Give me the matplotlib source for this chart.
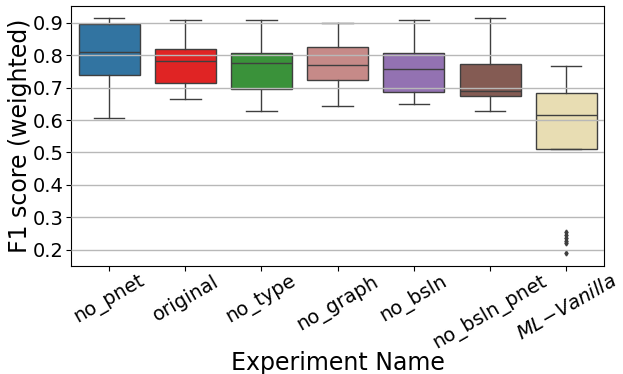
import matplotlib
matplotlib.use("Agg")
import matplotlib.pyplot as plt

# experiment names and box statistics
names = ["no_pnet", "original", "no_type", "no_graph", "no_bsln", "no_bsln_pnet", r"$ML\!-\!Vanilla$"]
whisker_low = [0.606, 0.664, 0.627, 0.643, 0.650, 0.627, 0.510]
q1 = [0.738, 0.713, 0.694, 0.723, 0.687, 0.673, 0.510]
median = [0.808, 0.782, 0.775, 0.769, 0.756, 0.690, 0.615]
q3 = [0.896, 0.819, 0.806, 0.824, 0.806, 0.772, 0.683]
whisker_high = [0.913, 0.909, 0.909, 0.900, 0.909, 0.914, 0.766]
outliers = [[], [], [], [], [], [], [0.255, 0.247, 0.238, 0.229, 0.220, 0.190]]
colors = ["#3274a1", "#e02424", "#3a923a", "#c68a88", "#9372b2", "#845b53", "#e8ddb3"]

stats = []
for i, name in enumerate(names):
    stats.append({
        "label": name,
        "whislo": whisker_low[i],
        "q1": q1[i],
        "med": median[i],
        "q3": q3[i],
        "whishi": whisker_high[i],
        "fliers": outliers[i],
    })

fig, ax = plt.subplots(figsize=(6.23, 3.74), dpi=100)
edge = "#3f3f3f"
bp = ax.bxp(
    stats,
    positions=range(len(names)),
    widths=0.8,
    patch_artist=True,
    boxprops=dict(edgecolor=edge, linewidth=1.0),
    medianprops=dict(color=edge, linewidth=1.0),
    whiskerprops=dict(color=edge, linewidth=1.0),
    capprops=dict(color=edge, linewidth=1.0),
    flierprops=dict(marker="d", markersize=2.5, markerfacecolor=edge, markeredgecolor=edge),
)
for patch, c in zip(bp["boxes"], colors):
    patch.set_facecolor(c)

ax.set_axisbelow(False)
ax.yaxis.grid(True, color="#b8b8b8", linewidth=1.0)
ax.set_xlim(-0.5, len(names) - 0.5)
ax.set_ylim(0.152, 0.951)
ax.set_yticks([0.2, 0.3, 0.4, 0.5, 0.6, 0.7, 0.8, 0.9])
ax.tick_params(axis="y", labelsize=14, pad=2)
ax.tick_params(axis="x", labelsize=14, pad=1)
ax.set_xticks(range(len(names)))
ax.set_xticklabels(names, rotation=30)
ax.set_xlabel("Experiment Name", fontsize=17, labelpad=-2)
ax.set_ylabel("F1 score (weighted)", fontsize=17, labelpad=0)

fig.subplots_adjust(left=0.114, right=0.97, top=0.984, bottom=0.29)
fig.savefig("out.png", dpi=100)
plt.close(fig)
